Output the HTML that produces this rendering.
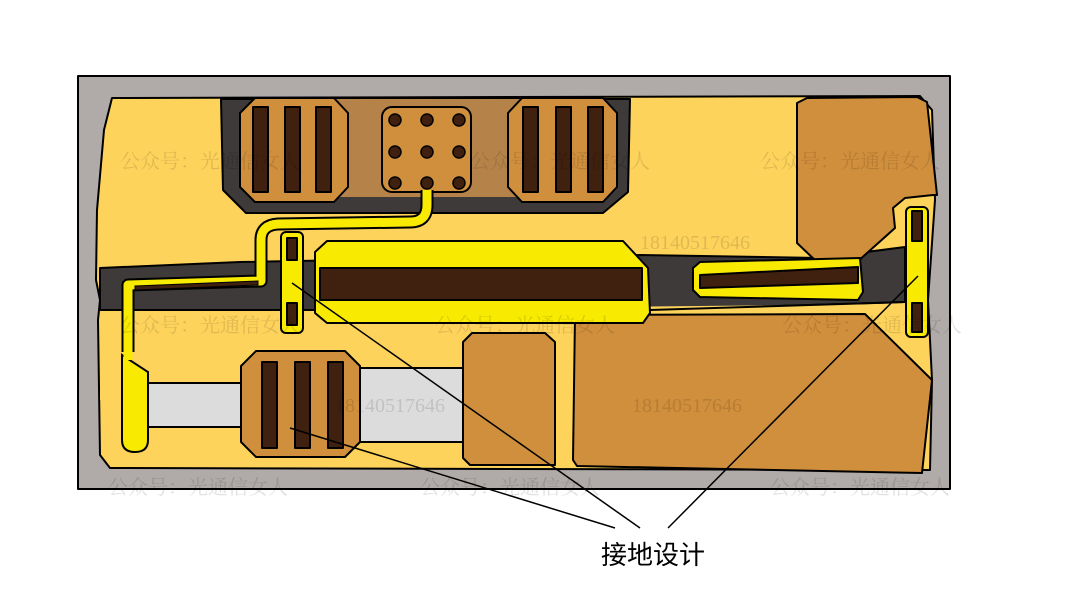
<!DOCTYPE html>
<html><head><meta charset="utf-8"><style>html,body{margin:0;padding:0;background:#fff}svg{display:block}</style></head>
<body>
<svg width="1080" height="608" viewBox="0 0 1080 608" xmlns="http://www.w3.org/2000/svg">
<g stroke="#000" stroke-width="2" stroke-linejoin="round">
<rect x="78" y="76" width="872" height="413" fill="#b0aaa9"/>
<polygon fill="#fdd35c" points="112,98 920,96 932,110 935,200 928,300 932,380 930,470 110,468 100,455 98,320 100,300 96,280 97,210 104,130"/>
<polygon fill="#3d3a39" points="100,268 240,262 640,255 820,258 905,247 905,302 650,310 100,310"/>
<polygon fill="#fdd35c" stroke="none" points="100,312 905,304 905,400 100,400"/>
<polyline fill="none" points="100,310 650,310 905,302"/>
<polygon fill="#3d3a39" points="221,99 630,99 628,192 603,213 246,213 223,190"/>
<rect x="300" y="99" width="260" height="98" fill="#b5834a" stroke="none"/>
<polygon fill="#d08f3c" points="255,98 334,98 348,113 348,187 334,202 255,202 240,187 240,113"/>
<polygon fill="#d08f3c" points="522,98 603,98 617,113 617,187 603,202 522,202 508,187 508,113"/>
<g fill="#40200e">
<rect x="253" y="107" width="15" height="85"/><rect x="285" y="107" width="15" height="85"/><rect x="316" y="107" width="15" height="85"/>
<rect x="523" y="107" width="15" height="85"/><rect x="556" y="107" width="15" height="85"/><rect x="588" y="107" width="15" height="85"/>
</g>
<rect x="382" y="107" width="89" height="85" rx="10" fill="#d08f3c"/>
<g fill="#40200e" stroke-width="1.5">
<circle cx="395" cy="120" r="6"/><circle cx="427" cy="120" r="6"/><circle cx="459" cy="120" r="6"/>
<circle cx="395" cy="152" r="6"/><circle cx="427" cy="152" r="6"/><circle cx="459" cy="152" r="6"/>
<circle cx="395" cy="183" r="6"/><circle cx="427" cy="183" r="6"/><circle cx="459" cy="183" r="6"/>
</g>
<polygon fill="#d08f3c" points="797,103 807,98 917,97 927,102 937,195 933,195 905,198 893,208 895,228 857,262 817,262 797,243"/>
<polygon fill="#d08f3c" points="575,315 865,314 932,380 922,473 577,466 573,460"/>
<polygon fill="#d08f3c" points="463,342 472,333 545,333 555,342 555,465 470,465 463,458"/>
<polygon fill="#dcdcdc" points="148,383 241,383 241,427 148,427"/>
<polygon fill="#dcdcdc" points="358,368 463,368 463,442 358,442"/>
<polygon fill="#d08f3c" points="256,351 345,351 360,366 360,442 345,457 256,457 241,442 241,366"/>
<g fill="#40200e"><rect x="262" y="362" width="15" height="86"/><rect x="295" y="362" width="15" height="86"/><rect x="328" y="362" width="15" height="86"/></g>
<polygon fill="#f8ea00" points="327,241 623,241 648,268 650,313 643,323 327,323 315,313 315,252"/>
<rect x="320" y="268" width="322" height="32" fill="#40200e"/>
<polygon fill="#f8ea00" points="700,262 860,258 863,292 858,300 700,297 693,290 693,268"/>
<polygon fill="#40200e" points="700,275 858,267 858,283 700,288"/>
<rect x="281" y="232" width="22" height="101" rx="5" fill="#f8ea00"/>
<rect x="287" y="238" width="10" height="22" fill="#40200e"/><rect x="287" y="303" width="10" height="22" fill="#40200e"/>
<rect x="906" y="207" width="22" height="130" rx="5" fill="#f8ea00"/>
<rect x="912" y="211" width="10" height="30" fill="#40200e"/><rect x="912" y="303" width="10" height="29" fill="#40200e"/>
</g>
<path d="M427,190 L427,205 Q427,222 410,222 L278,224 Q261,225 261,240 L261,281 L128,285 L128,352" fill="none" stroke="#000" stroke-width="13" stroke-linejoin="round"/>
<path d="M122,355 L148,372 L148,440 Q148,452 135,452 Q122,452 122,440 Z" fill="#f8ea00" stroke="#000" stroke-width="2"/>
<path d="M427,190 L427,205 Q427,222 410,222 L278,224 Q261,225 261,240 L261,281 L128,285 L128,360" fill="none" stroke="#f8ea00" stroke-width="9" stroke-linejoin="round"/>
<polygon points="135,286 258,281 258,285 135,290" fill="#40200e" stroke="#000" stroke-width="1"/>
<g font-family="'Liberation Serif','Noto Serif CJK SC',serif" font-size="20" fill="#000" fill-opacity="0.12">
<text x="120" y="168">公众号：光通信女人</text><text x="470" y="168">公众号：光通信女人</text><text x="760" y="168">公众号：光通信女人</text>
<text x="120" y="332">公众号：光通信女人</text><text x="435" y="332">公众号：光通信女人</text><text x="782" y="332">公众号：光通信女人</text>
<text x="108" y="494">公众号：光通信女人</text><text x="420" y="494">公众号：光通信女人</text><text x="770" y="494">公众号：光通信女人</text>
<text x="640" y="249">18140517646</text><text x="335" y="412">18140517646</text><text x="632" y="412">18140517646</text>
</g>
<g stroke="#000" stroke-width="1.5">
<line x1="290" y1="428" x2="615" y2="528"/>
<line x1="292" y1="283" x2="640" y2="528"/>
<line x1="918" y1="276" x2="668" y2="528"/>
</g>
<text x="653" y="564" text-anchor="middle" font-family="'Liberation Sans','Noto Sans CJK SC',sans-serif" font-size="26" fill="#000">接地设计</text>
</svg>
</body></html>
